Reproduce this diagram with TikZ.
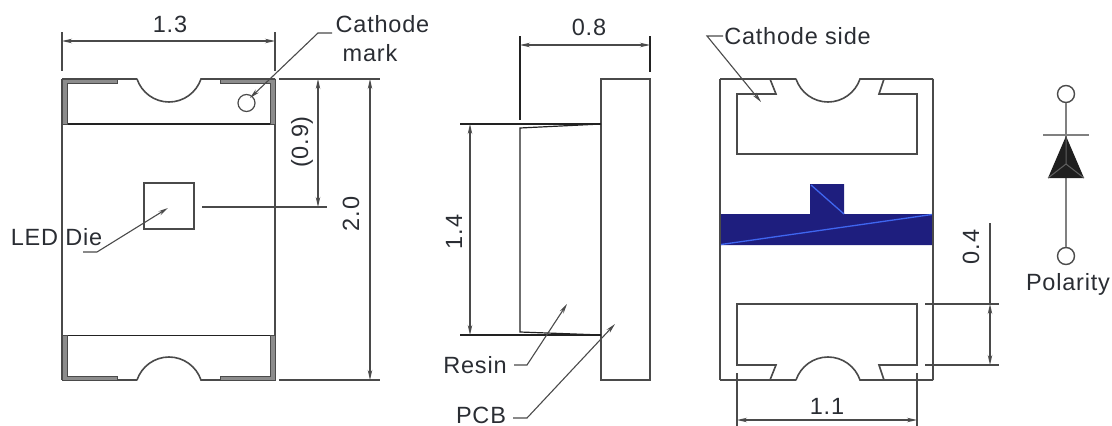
\documentclass[tikz,border=0pt]{standalone}
\usepackage{fontspec}
\setmainfont[LetterSpace=3.4]{Liberation Sans}
\usetikzlibrary{arrows.meta}
\definecolor{inkline}{HTML}{4A4A4A}
\definecolor{inkdark}{HTML}{222222}
\definecolor{navyfill}{HTML}{1E1E7E}
\definecolor{blueline}{HTML}{3F66F0}
\definecolor{labelink}{HTML}{2A2D33}
\definecolor{bandgrey}{HTML}{8C8C8C}
\tikzset{
  part/.style={draw=inkline,line width=1.6pt,line join=miter},
  thin part/.style={draw=inkdark,line width=1.2pt},
  heavy/.style={fill=bandgrey,draw=inkline,line width=.9pt},
  dimline/.style={draw=inkline,line width=1.2pt},
  dimarrow/.style={dimline,{Stealth[length=10pt,width=4.5pt]}-{Stealth[length=10pt,width=4.5pt]}},
  leader/.style={draw=inkline,line width=1.1pt,-{Stealth[length=10pt,width=4.5pt]}},
  lab/.style={inner sep=0pt,text=labelink,font=\fontsize{23.5}{26}\selectfont},
  rotlab/.style={lab,rotate=90}
}
\newcommand{\topnotch}[2]{(#1,79) .. controls ({#1+4.7},92.7) and ({#1+17.5},102) .. ({#1+32},102) .. controls ({#1+46.5},102) and ({#1+59.3},92.7) .. ({#1+64},79)}
\newcommand{\botnotch}[2]{(#1,380) .. controls ({#1+4.7},366.3) and ({#1+17.5},357) .. ({#1+32},357) .. controls ({#1+46.5},357) and ({#1+59.3},366.3) .. ({#1+64},380)}
\begin{document}
\begin{tikzpicture}[x=1pt,y=-1pt]
\useasboundingbox (0,0) rectangle (1112,426);
% ---------- left view
\draw[part] (62,79) -- (62,380);
\draw[part] (275,79) -- (275,380);
\draw[part] (62,79) -- (137,79) \topnotch{137}{} -- (275,79);
\draw[part] (62,380) -- (137,380) \botnotch{137}{} -- (275,380);
\draw[thin part] (62,124) -- (275,124);
\draw[thin part] (62,335.5) -- (275,335.5);
\path[heavy] (62,79) -- (117,79) -- (117,83) -- (67,83) -- (67,124) -- (62,124) -- cycle;
\path[heavy] (275,79) -- (220,79) -- (220,83) -- (270,83) -- (270,124) -- (275,124) -- cycle;
\path[heavy] (62,380) -- (117,380) -- (117,376) -- (67,376) -- (67,335) -- (62,335) -- cycle;
\path[heavy] (275,380) -- (220,380) -- (220,376) -- (270,376) -- (270,335) -- (275,335) -- cycle;
\node[draw=inkline,line width=1.2pt,circle,minimum size=17pt,inner sep=0pt] (mark) at (246.5,103) {};
\node[draw=inkline,line width=1.2pt,minimum width=50pt,minimum height=46pt,inner sep=0pt] (die) at (169,206) {};
% dimension 1.3
\coordinate (a1) at (62,32); \coordinate (a2) at (62,71);
\coordinate (a3) at (275,32); \coordinate (a4) at (275,71);
\draw[dimline] (a1) -- (a2); \draw[dimline] (a3) -- (a4);
\coordinate (a5) at (62,41); \coordinate (a6) at (275,41);
\draw[dimarrow] (a5) -- (a6);
\node[lab] (d13) at (170,24) {1.3};
% dimension (0.9), 2.0
\coordinate (b1) at (279,79); \coordinate (b2) at (380,79);
\coordinate (b3) at (279,380); \coordinate (b4) at (380,380);
\coordinate (b5) at (202,207); \coordinate (b6) at (327,207);
\draw[dimline] (b1) -- (b2); \draw[dimline] (b3) -- (b4); \draw[dimline] (b5) -- (b6);
\coordinate (b7) at (318,79); \coordinate (b8) at (318,207);
\draw[dimarrow] (b7) -- (b8);
\coordinate (b9) at (370,79); \coordinate (b10) at (370,380);
\draw[dimarrow] (b9) -- (b10);
\node[rotlab] (d09) at (302,142) {(0.9)};
\node[rotlab] (d20) at (351,214) {2.0};
% labels left
\node[lab] (cath1) at (382.5,24) {Cathode};
\node[lab] (cath2) at (370,53) {mark};
\coordinate (c1) at (332,33); \coordinate (c2) at (318,33); \coordinate (c3) at (250,98);
\draw[leader] (c1) -- (c2) -- (c3);
\node[lab] (led) at (56.5,237) {LED Die};
\coordinate (e1) at (83,252); \coordinate (e2) at (97,252); \coordinate (e3) at (168,208);
\draw[leader] (e1) -- (e2) -- (e3);
% ---------- middle view
\draw[part] (601,79) rectangle (650,380);
\coordinate (f1) at (520,128); \coordinate (f2) at (520,332);
\coordinate (f3) at (601,124); \coordinate (f4) at (601,335);
\draw[thin part] (f3) -- (f1) -- (f2) -- (f4);
\coordinate (f5) at (460,124); \coordinate (f6) at (460,335);
\draw[thin part] (f5) -- (f3); \draw[thin part] (f6) -- (f4);
\coordinate (f7) at (520,36); \coordinate (f8) at (520,120);
\coordinate (f9) at (650,36); \coordinate (f10) at (650,72);
\draw[thin part] (f7) -- (f8); \draw[thin part] (f9) -- (f10);
\coordinate (f11) at (520,45); \coordinate (f12) at (650,45);
\draw[dimarrow] (f11) -- (f12);
\coordinate (f13) at (470,124); \coordinate (f14) at (470,335);
\draw[dimarrow] (f13) -- (f14);
\node[lab] (d08) at (589,27) {0.8};
\node[rotlab] (d14) at (454,232) {1.4};
\node[lab] (resin) at (475,365) {Resin};
\node[lab] (pcb) at (481,415.5) {PCB};
\coordinate (g1) at (514,365); \coordinate (g2) at (527,365); \coordinate (g3) at (567,304);
\draw[leader] (g1) -- (g2) -- (g3);
\coordinate (g4) at (513,418); \coordinate (g5) at (527,418); \coordinate (g6) at (615,324);
\draw[leader] (g4) -- (g5) -- (g6);
% ---------- right view
\fill[navyfill] (721,214) -- (810,214) -- (810,184) -- (844,184) -- (844,214) -- (932,214) -- (932,245) -- (721,245) -- cycle;
\draw[blueline,line width=1.3pt] (721,244.5) -- (932,214.5);
\draw[blueline,line width=1.3pt] (811,185) -- (844,214);
\draw[part] (720,79) -- (720,380);
\draw[part] (933,79) -- (933,380);
\draw[part] (720,79) -- (796,79) \topnotch{796}{} -- (933,79);
\draw[part] (720,380) -- (796,380) \botnotch{796}{} -- (933,380);
\draw[part] (770,79) -- (776,94) -- (737,94) -- (737,154) -- (917,154) -- (917,94) -- (879,94) -- (884,79);
\draw[part] (770,380) -- (776,365) -- (737,365) -- (737,304) -- (917,304) -- (917,365) -- (879,365) -- (884,380);
\node[lab] (side) at (797.5,36) {Cathode side};
\coordinate (h1) at (723,36); \coordinate (h2) at (707,36); \coordinate (h3) at (761,102);
\draw[leader] (h1) -- (h2) -- (h3);
\coordinate (i1) at (737,373); \coordinate (i2) at (737,426);
\coordinate (i3) at (917,373); \coordinate (i4) at (917,426);
\draw[dimline] (i1) -- (i2); \draw[dimline] (i3) -- (i4);
\coordinate (i5) at (737,420); \coordinate (i6) at (917,420);
\draw[dimarrow] (i5) -- (i6);
\node[lab] (d11) at (827,406) {1.1};
\coordinate (j1) at (925,304); \coordinate (j2) at (999,304);
\coordinate (j3) at (925,365); \coordinate (j4) at (999,365);
\draw[dimline] (j1) -- (j2); \draw[dimline] (j3) -- (j4);
\coordinate (j5) at (990,223); \coordinate (j6) at (990,304); \coordinate (j7) at (990,365);
\draw[dimline] (j5) -- (j6);
\draw[dimarrow] (j6) -- (j7);
\node[rotlab] (d04) at (971,247) {0.4};
% ---------- diode
\node[draw=inkline,line width=1.4pt,circle,minimum size=17pt,inner sep=0pt] (k1) at (1066,94) {};
\node[draw=inkline,line width=1.4pt,circle,minimum size=17pt,inner sep=0pt] (k2) at (1066,256) {};
\draw[draw=gray,line width=2pt] (k1) -- (k2);
\coordinate (k3) at (1043,135); \coordinate (k4) at (1089,135);
\draw[draw=gray,line width=1.8pt] (k3) -- (k4);
\coordinate (k5) at (1066,136); \coordinate (k6) at (1048,178); \coordinate (k7) at (1084,178); \coordinate (k8) at (1066,164);
\fill[fill=black!88] (k5) -- (k7) -- (k6) -- cycle;
\draw[draw=black!62,line width=1pt] (k5) -- (k8) (k6) -- (k8) -- (k7);
\node[lab] (pol) at (1068,284) {Polarity};
\end{tikzpicture}
\end{document}
